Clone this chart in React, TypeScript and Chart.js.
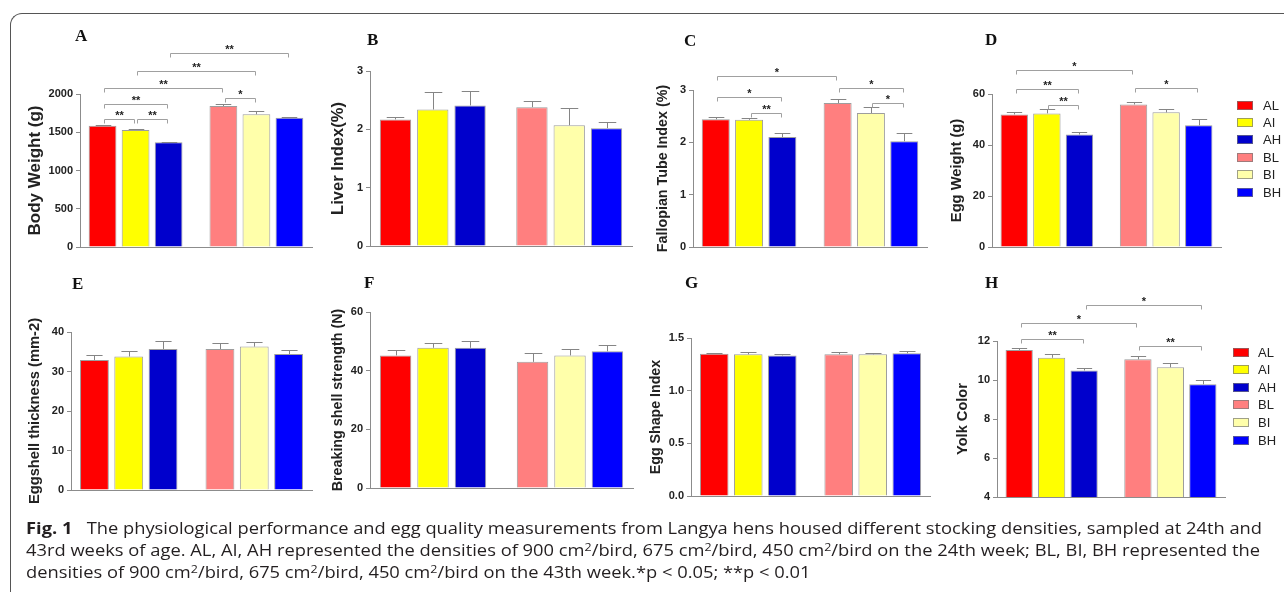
import React, { useEffect, useRef } from 'react';
import { Chart, registerables } from 'chart.js';
Chart.register(...registerables);

// ---------- data ----------
const groupIndex = [0, 1]; // 24th week (A*), 43rd week (B*)
const densities = ['L', 'I', 'H'];
const barNames = ['AL', 'AI', 'AH', 'BL', 'BI', 'BH'];
const barColors = ['#ff0000', '#ffff00', '#0000cc', '#ff7f7f', '#ffffaa', '#0000ff'];

const bodyWeight = [1585, 1530, 1370, 1843, 1735, 1690];
const bodyWeightErr = [8, 8, 8, 22, 38, 6];
const bodyWeightTicks = ['0', '500', '1000', '1500', '2000'];
const bodyWeightSig = [
  ['AL', 'AI', '**', 1673],
  ['AI', 'AH', '**', 1673],
  ['AL', 'AH', '**', 1869],
  ['AL', 'BL', '**', 2078],
  ['AI', 'BI', '**', 2300],
  ['AH', 'BH', '**', 2536],
  ['BL', 'BI', '*', 1948],
];

const liverIndex = [2.17, 2.34, 2.41, 2.38, 2.07, 2.02];
const liverIndexErr = [0.05, 0.3, 0.25, 0.1, 0.29, 0.1];
const liverIndexTicks = ['0', '1', '2', '3'];

const fallopian = [2.44, 2.43, 2.1, 2.75, 2.56, 2.02];
const fallopianErr = [0.05, 0.03, 0.07, 0.08, 0.12, 0.15];
const fallopianTicks = ['0', '1', '2', '3'];
const fallopianSig = [
  ['AL', 'BL', '*', 3.27],
  ['AL', 'AH', '*', 2.86],
  ['AI', 'AH', '**', 2.56],
  ['BL', 'BH', '*', 3.03],
  ['BI', 'BH', '*', 2.76],
];

const eggWeight = [52.0, 52.4, 44.1, 55.9, 52.8, 47.7];
const eggWeightErr = [0.9, 1.6, 1.0, 1.1, 1.5, 2.5];
const eggWeightTicks = ['0', '20', '40', '60'];
const eggWeightSig = [
  ['AL', 'BL', '*', 69.3],
  ['AL', 'AH', '**', 61.9],
  ['AI', 'AH', '**', 55.8],
  ['BL', 'BH', '*', 62.2],
];

const eggshell = [32.9, 33.8, 35.7, 35.7, 36.3, 34.4];
const eggshellErr = [1.2, 1.4, 2.0, 1.4, 1.2, 1.0];
const eggshellTicks = ['0', '10', '20', '30', '40'];

const breaking = [45.2, 47.8, 47.8, 43.0, 45.2, 46.6];
const breakingErr = [1.8, 1.7, 2.3, 3.0, 2.3, 2.0];
const breakingTicks = ['0', '20', '40', '60'];

const shapeIndex = [1.35, 1.345, 1.335, 1.345, 1.345, 1.355];
const shapeIndexErr = [0.01, 0.018, 0.01, 0.025, 0.01, 0.02];
const shapeIndexTicks = ['0.0', '0.5', '1.0', '1.5'];

const yolkColor = [11.54, 11.14, 10.49, 11.06, 10.65, 9.78];
const yolkColorErr = [0.1, 0.18, 0.12, 0.15, 0.23, 0.2];
const yolkColorTicks = ['4', '6', '8', '10', '12'];
const yolkColorSig = [
  ['AH', 'BH', '*', 13.85],
  ['AL', 'BL', '*', 12.91],
  ['AL', 'AH', '**', 12.09],
  ['BL', 'BH', '**', 11.74],
];

// ---------- layout ----------
const SANS = "'Liberation Sans', Arial, Helvetica, sans-serif";
const AXIS = '#8c8c8c';

type Spec = {
  letter: string; title: string; titleSize: number; values: number[]; errors: number[]; ticks: string[]; sig: any[];
  L: number; R: number; T: number; B: number; TX: number; top: number;
  letterX: number; letterY: number;
  legend?: { dx: number; dy: number; gap: number; tx: number };
};

const panels: Spec[] = [
  { letter: 'A', title: 'Body Weight (g)', titleSize: 17, values: bodyWeight, errors: bodyWeightErr, ticks: bodyWeightTicks, sig: bodyWeightSig,
    L: 80, R: 312, T: 94, B: 247, TX: 35, top: 20, letterX: 75, letterY: 32 },
  { letter: 'B', title: 'Liver Index(%)', titleSize: 16.5, values: liverIndex, errors: liverIndexErr, ticks: liverIndexTicks, sig: [],
    L: 370, R: 632, T: 71, B: 246, TX: 339, top: 20, letterX: 367, letterY: 36 },
  { letter: 'C', title: 'Fallopian Tube Index (%)', titleSize: 14.3, values: fallopian, errors: fallopianErr, ticks: fallopianTicks, sig: fallopianSig,
    L: 693, R: 927, T: 90, B: 247, TX: 663, top: 20, letterX: 684, letterY: 37 },
  { letter: 'D', title: 'Egg Weight (g)', titleSize: 14.7, values: eggWeight, errors: eggWeightErr, ticks: eggWeightTicks, sig: eggWeightSig,
    L: 992, R: 1221, T: 94, B: 247, TX: 957, top: 20, letterX: 985, letterY: 36,
    legend: { dx: 16, dy: 11, gap: 17.4, tx: 26 } },
  { letter: 'E', title: 'Eggshell thickness (mm-2)', titleSize: 14.7, values: eggshell, errors: eggshellErr, ticks: eggshellTicks, sig: [],
    L: 71, R: 312, T: 332, B: 490, TX: 35, top: 285, letterX: 72, letterY: 280 },
  { letter: 'F', title: 'Breaking shell strength (N)', titleSize: 14.3, values: breaking, errors: breakingErr, ticks: breakingTicks, sig: [],
    L: 370, R: 633, T: 312, B: 488, TX: 338, top: 285, letterX: 364, letterY: 279 },
  { letter: 'G', title: 'Egg Shape Index', titleSize: 14.2, values: shapeIndex, errors: shapeIndexErr, ticks: shapeIndexTicks, sig: [],
    L: 691, R: 930, T: 338, B: 496, TX: 657, top: 285, letterX: 685, letterY: 279 },
  { letter: 'H', title: 'Yolk Color', titleSize: 14.6, values: yolkColor, errors: yolkColorErr, ticks: yolkColorTicks, sig: yolkColorSig,
    L: 997, R: 1225, T: 341, B: 497, TX: 963, top: 285, letterX: 985, letterY: 279,
    legend: { dx: 8, dy: 11, gap: 17.6, tx: 25 } },
];

function makeDeco(s: Spec) {
  return {
    id: 'deco' + s.letter,
    afterDatasetsDraw(chart: any) {
      const ctx = chart.ctx;
      const y = chart.scales.y;
      const barAt = (name: string) => {
        const i = barNames.indexOf(name);
        return chart.getDatasetMeta(i % 3).data[Math.floor(i / 3)];
      };
      ctx.save();
      ctx.lineWidth = 1;
      // error bars (upper whisker)
      s.errors.forEach((e, i) => {
        const el = barAt(barNames[i]);
        const x = Math.round(el.x) + 0.5;
        const yTop = Math.round(y.getPixelForValue(s.values[i] + e)) + 0.5;
        const half = el.width * 0.28;
        ctx.strokeStyle = '#858585';
        ctx.beginPath();
        ctx.moveTo(x, el.y);
        ctx.lineTo(x, yTop);
        ctx.moveTo(x - half, yTop);
        ctx.lineTo(x + half, yTop);
        ctx.stroke();
      });
      // significance brackets
      s.sig.forEach(([a, b, txt, val]: any) => {
        const ea = barAt(a), eb = barAt(b);
        const yy = Math.round(y.getPixelForValue(val)) + 0.5;
        const x1 = Math.round(ea.x + 1.5) + 0.5, x2 = Math.round(eb.x - 1.5) + 0.5;
        ctx.strokeStyle = '#a0a0a0';
        ctx.beginPath();
        ctx.moveTo(x1, yy + 4);
        ctx.lineTo(x1, yy);
        ctx.lineTo(x2, yy);
        ctx.lineTo(x2, yy + 4);
        ctx.stroke();
        ctx.fillStyle = '#222';
        ctx.font = `bold 11px ${SANS}`;
        ctx.textAlign = 'center';
        ctx.textBaseline = 'alphabetic';
        ctx.fillText(txt, (x1 + x2) / 2, yy - 1);
      });
      // legend
      if (s.legend) {
        const ca = chart.chartArea;
        const lg = s.legend;
        barNames.forEach((n, i) => {
          const cy = ca.top + lg.dy + i * lg.gap;
          const bx = ca.right + lg.dx;
          ctx.fillStyle = barColors[i];
          ctx.fillRect(bx, Math.round(cy - 4.5), 16, 9);
          ctx.strokeStyle = 'rgba(120,120,120,0.7)';
          ctx.strokeRect(bx + 0.5, Math.round(cy - 4.5) + 0.5, 15, 8);
          ctx.fillStyle = '#222';
          ctx.font = `13px ${SANS}`;
          ctx.textAlign = 'left';
          ctx.textBaseline = 'middle';
          ctx.fillText(n, bx + lg.tx, cy + 1);
        });
      }
      ctx.restore();
    },
  };
}

function Panel({ s }: { s: Spec }) {
  const ref = useRef<HTMLCanvasElement>(null);
  const lh = s.titleSize * 1.2;
  const left = Math.round(s.TX - lh / 2);
  const top = s.top;
  const right = s.legend ? 1284 : s.R + 8;
  const bottom = s.B + 24;
  const w = right - left;
  const h = bottom - top;
  useEffect(() => {
    const tickVals = s.ticks.map(Number);
    const chart = new Chart(ref.current as HTMLCanvasElement, {
      type: 'bar',
      data: {
        datasets: densities.map((dn, d) => ({
          label: dn,
          data: groupIndex.map((g) => ({ x: g, y: s.values[g * 3 + d] })),
          backgroundColor: groupIndex.map((g) => barColors[g * 3 + d]),
          borderColor: 'rgba(115,115,115,0.7)',
          borderWidth: 1,
          categoryPercentage: 0.82,
          barPercentage: 0.84,
        })),
      } as any,
      options: {
        animation: false,
        responsive: false,
        devicePixelRatio: 1,
        layout: { padding: { top: s.T - top, bottom: bottom - s.B, left: 0, right: right - s.R } },
        plugins: { legend: { display: false }, tooltip: { enabled: false } },
        scales: {
          x: {
            type: 'linear',
            bounds: 'data',
            offset: false,
            min: -0.46,
            max: 1.46,
            afterBuildTicks: (sc: any) => { sc.ticks = groupIndex.map((v) => ({ value: v })); },
            ticks: { display: false },
            grid: { display: false, offset: false },
            border: { display: true, color: AXIS, width: 1 },
            afterFit: (sc: any) => { sc.height = 0; },
          },
          y: {
            min: tickVals[0],
            max: tickVals[tickVals.length - 1],
            afterBuildTicks: (sc: any) => { sc.ticks = tickVals.map((v) => ({ value: v })); },
            ticks: {
              callback: (_v: any, i: number) => s.ticks[i],
              font: { family: SANS, size: 11, weight: 'bold' },
              color: '#222',
              padding: 3,
            },
            grid: { drawOnChartArea: false, drawTicks: true, tickLength: 4, color: AXIS },
            border: { display: true, color: AXIS, width: 1 },
            title: {
              display: true,
              text: s.title,
              font: { family: SANS, size: s.titleSize, weight: 'bold', lineHeight: 1.2 },
              color: '#222',
              padding: 0,
            },
            afterFit: (sc: any) => { sc.width = s.L - left; },
          },
        },
      } as any,
      plugins: [makeDeco(s)],
    });
    return () => chart.destroy();
  }, []);
  return (
    <>
      <canvas ref={ref} width={w} height={h}
        style={{ position: 'absolute', left, top, width: w, height: h }} />
      <div style={{
        position: 'absolute', left: s.letterX, top: s.letterY - 5, fontFamily: "'Liberation Serif', 'Times New Roman', serif",
        fontWeight: 'bold', fontSize: 17, lineHeight: '17px', color: '#111',
      }}>{s.letter}</div>
    </>
  );
}

const supStyle: React.CSSProperties = { fontSize: '0.68em', position: 'relative', top: '-0.5em', lineHeight: 0 };
const cm2 = (<>cm<span style={supStyle}>2</span></>);

const captionTargets = [1236, 1234];

export default function App() {
  const lineRefs = [useRef<HTMLSpanElement>(null), useRef<HTMLSpanElement>(null), useRef<HTMLSpanElement>(null)];
  useEffect(() => {
    const scales: number[] = [];
    captionTargets.forEach((t, i) => {
      const el = lineRefs[i].current!;
      scales.push(t / el.getBoundingClientRect().width);
    });
    const avg = (scales[0] + scales[1]) / 2;
    lineRefs.forEach((r, i) => {
      const el = r.current!;
      el.style.transform = `scaleX(${i < 2 ? scales[i] : avg})`;
    });
  }, []);
  const lineStyle: React.CSSProperties = { display: 'inline-block', whiteSpace: 'nowrap', transformOrigin: '0 0' };
  return (
    <div style={{ position: 'absolute', left: 0, top: 0, width: 1284, height: 592, overflow: 'hidden', background: '#fff' }}>
      <div style={{
        position: 'absolute', left: 10, top: 13, width: 1400, height: 700,
        borderLeft: '1.5px solid #555', borderTop: '1.5px solid #555', borderTopLeftRadius: 12,
      }} />
      {panels.map((s) => <Panel key={s.letter} s={s} />)}
      <div style={{
        position: 'absolute', left: 26, top: 517, fontFamily: "'Open Sans', 'Noto Sans', sans-serif",
        fontSize: 16, lineHeight: '22px', color: '#231f20',
      }}>
        <div><span ref={lineRefs[0]} style={lineStyle}><b>Fig. 1</b>&nbsp;&nbsp; The physiological performance and egg quality measurements from Langya hens housed different stocking densities, sampled at 24th and</span></div>
        <div><span ref={lineRefs[1]} style={lineStyle}>43rd weeks of age. AL, AI, AH represented the densities of 900 {cm2}/bird, 675 {cm2}/bird, 450 {cm2}/bird on the 24th week; BL, BI, BH represented the</span></div>
        <div><span ref={lineRefs[2]} style={lineStyle}>densities of 900 {cm2}/bird, 675 {cm2}/bird, 450 {cm2}/bird on the 43th week.*p &lt; 0.05; **p &lt; 0.01</span></div>
      </div>
    </div>
  );
}
